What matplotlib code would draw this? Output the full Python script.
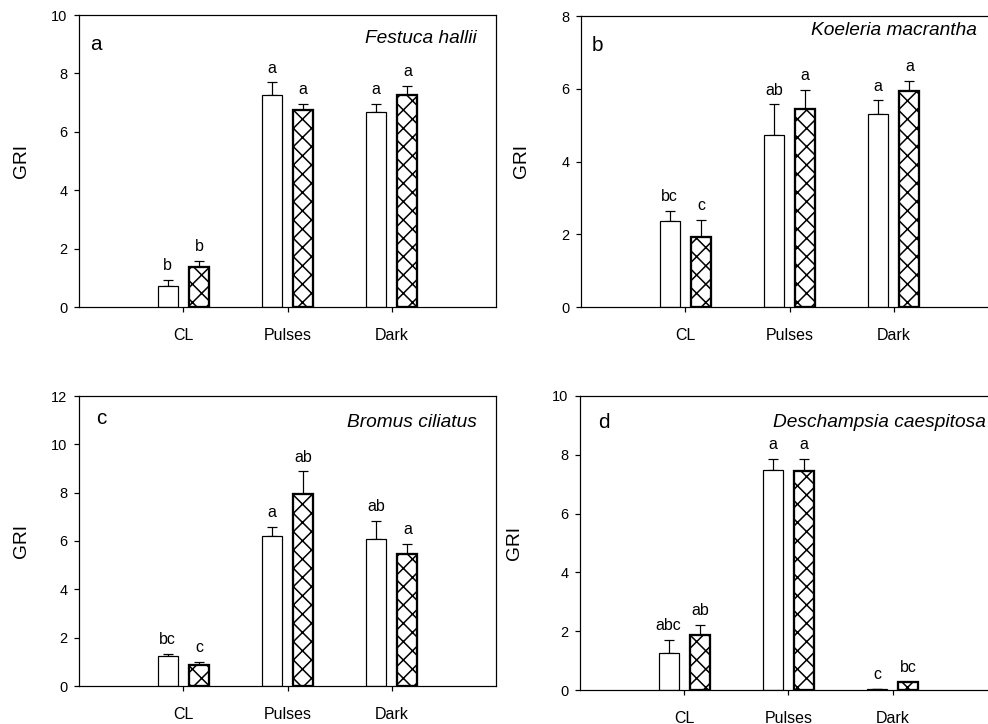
import numpy as np
import matplotlib
matplotlib.use("Agg")
from matplotlib import pyplot as plt

plt.rcParams['font.family'] = ['Liberation Sans', 'DejaVu Sans']
plt.rcParams['hatch.linewidth'] = 1.0

categories = ['CL', 'Pulses', 'Dark']

# panel a - Festuca hallii
a_open = [0.71, 7.25, 6.67]
a_open_err = [0.23, 0.44, 0.27]
a_hatch = [1.37, 6.73, 7.25]
a_hatch_err = [0.22, 0.23, 0.33]
a_open_lab = ['b', 'a', 'a']
a_hatch_lab = ['b', 'a', 'a']

# panel b - Koeleria macrantha
b_open = [2.37, 4.74, 5.30]
b_open_err = [0.28, 0.83, 0.38]
b_hatch = [1.92, 5.44, 5.93]
b_hatch_err = [0.47, 0.52, 0.28]
b_open_lab = ['bc', 'ab', 'a']
b_hatch_lab = ['c', 'a', 'a']

# panel c - Bromus ciliatus
c_open = [1.24, 6.21, 6.07]
c_open_err = [0.07, 0.38, 0.77]
c_hatch = [0.86, 7.93, 5.48]
c_hatch_err = [0.12, 0.95, 0.40]
c_open_lab = ['bc', 'a', 'ab']
c_hatch_lab = ['c', 'ab', 'a']

# panel d - Deschampsia caespitosa
d_open = [1.27, 7.49, 0.03]
d_open_err = [0.44, 0.36, 0.01]
d_hatch = [1.88, 7.44, 0.26]
d_hatch_err = [0.33, 0.41, 0.02]
d_open_lab = ['abc', 'a', 'c']
d_hatch_lab = ['ab', 'a', 'bc']

W, H = 989, 724
DPI = 110
fig = plt.figure(figsize=(W / DPI, H / DPI), dpi=DPI)


def panel(rect, ymax, opn, opn_err, hat, hat_err, opn_lab, hat_lab,
          letter, species, letter_xy, species_xy, ylab_x, species_ha='right'):
    ax = fig.add_axes(rect)
    x = np.arange(1, len(categories) + 1)
    bw = 0.19
    off = 0.15
    ax.bar(x - off, opn, bw, facecolor='white', edgecolor='black', linewidth=0.8, zorder=2)
    ax.bar(x + off, hat, bw, facecolor='white', edgecolor='black', linewidth=1.5,
           hatch='xx', zorder=2)
    for xs, m, e, labs in [(x - off, opn, opn_err, opn_lab), (x + off, hat, hat_err, hat_lab)]:
        ax.errorbar(xs, m, yerr=[np.zeros(len(e)), e], fmt='none', ecolor='black',
                    elinewidth=0.8, capsize=3, capthick=0.8, zorder=1)
        for xi, mi, ei, lab in zip(xs, m, e, labs):
            ax.annotate(lab, (xi, mi + ei), xytext=(0, 4.5), textcoords='offset points',
                        ha='center', va='bottom', fontsize=10.5)
    ax.set_xlim(0, 4)
    ax.set_ylim(0, ymax)
    ax.set_yticks(np.arange(0, ymax + 1, 2))
    ax.set_xticks(x)
    ax.set_xticklabels(categories, fontsize=10.5)
    ax.tick_params(axis='y', direction='out', length=3, width=0.8, pad=4.5, labelsize=9.5)
    ax.tick_params(axis='x', direction='out', length=3, width=0.8, pad=10.5)
    for s in ax.spines.values():
        s.set_linewidth(0.8)
    ax.set_ylabel('GRI', fontsize=12.5)
    ax.yaxis.set_label_coords(ylab_x, 0.5)
    ax.text(letter_xy[0], letter_xy[1], letter, transform=ax.transAxes,
            fontsize=13.5, ha='left', va='center')
    ax.text(species_xy[0], species_xy[1], species, transform=ax.transAxes,
            fontsize=12.5, style='italic', ha=species_ha, va='center')
    return ax


panel([79 / W, 1 - 307 / H, 417 / W, 292 / H], 10, a_open, a_open_err, a_hatch, a_hatch_err,
      a_open_lab, a_hatch_lab, 'a', 'Festuca hallii', (0.027, 0.90), (0.955, 0.92), -0.1175)
panel([581 / W, 1 - 307 / H, 417 / W, 291 / H], 8, b_open, b_open_err, b_hatch, b_hatch_err,
      b_open_lab, b_hatch_lab, 'b', 'Koeleria macrantha', (0.026, 0.90), (0.95, 0.95), -0.122)
panel([79 / W, 1 - 686 / H, 417 / W, 290 / H], 12, c_open, c_open_err, c_hatch, c_hatch_err,
      c_open_lab, c_hatch_lab, 'c', 'Bromus ciliatus', (0.04, 0.924), (0.955, 0.91), -0.1175)
panel([580 / W, 1 - 690 / H, 417 / W, 294 / H], 10, d_open, d_open_err, d_hatch, d_hatch_err,
      d_open_lab, d_hatch_lab, 'd', 'Deschampsia caespitosa', (0.043, 0.91), (0.463, 0.91),
      -0.137, species_ha='left')

fig.savefig('out.png', dpi=DPI)
